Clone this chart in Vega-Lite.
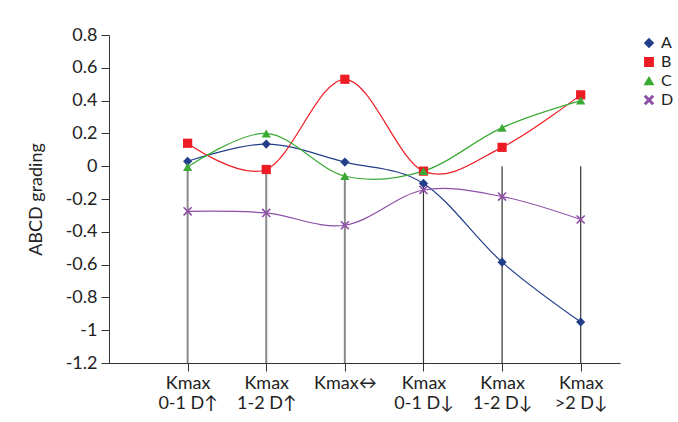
{
  "$schema": "https://vega.github.io/schema/vega-lite/v6.json",
  "autosize": "none",
  "width": 511,
  "height": 328,
  "padding": {"left": 109, "top": 35, "right": 58, "bottom": 59},
  "config": {
    "font": "Lato",
    "view": {"stroke": null},
    "axis": {"labelFont": "Lato", "titleFont": "Lato", "labelColor": "#222", "titleColor": "#222", "domainColor": "#333", "tickColor": "#333", "grid": false},
    "axisY": {"values": [-1.2, -1, -0.8, -0.6, -0.4, -0.2, 0, 0.2, 0.4, 0.6, 0.8], "labelOverlap": false, "labelFontSize": 18, "titleFontSize": 18, "titleFontWeight": "normal", "tickSize": 8, "labelPadding": 4, "titlePadding": 20}
  },
  "datasets": {
    "series": [
      {"k": 1, "series": "A", "value": 0.03},
      {"k": 2, "series": "A", "value": 0.135},
      {"k": 3, "series": "A", "value": 0.025},
      {"k": 4, "series": "A", "value": -0.105},
      {"k": 5, "series": "A", "value": -0.585},
      {"k": 6, "series": "A", "value": -0.95},
      {"k": 1, "series": "B", "value": 0.14},
      {"k": 2, "series": "B", "value": -0.02},
      {"k": 3, "series": "B", "value": 0.53},
      {"k": 4, "series": "B", "value": -0.03},
      {"k": 5, "series": "B", "value": 0.115},
      {"k": 6, "series": "B", "value": 0.435},
      {"k": 1, "series": "C", "value": -0.005},
      {"k": 2, "series": "C", "value": 0.2},
      {"k": 3, "series": "C", "value": -0.06},
      {"k": 4, "series": "C", "value": -0.03},
      {"k": 5, "series": "C", "value": 0.235},
      {"k": 6, "series": "C", "value": 0.4},
      {"k": 1, "series": "D", "value": -0.275},
      {"k": 2, "series": "D", "value": -0.285},
      {"k": 3, "series": "D", "value": -0.36},
      {"k": 4, "series": "D", "value": -0.145},
      {"k": 5, "series": "D", "value": -0.185},
      {"k": 6, "series": "D", "value": -0.325}
    ],
    "drops": [
      {"k": 1, "top": -0.005, "bottom": -1.2},
      {"k": 2, "top": -0.02, "bottom": -1.2},
      {"k": 3, "top": -0.06, "bottom": -1.2},
      {"k": 4, "top": -0.105, "bottom": -1.2},
      {"k": 5, "top": 0, "bottom": -1.2},
      {"k": 6, "top": 0, "bottom": -1.2}
    ]
  },
  "layer": [
    {
      "data": {"name": "drops"},
      "transform": [{"filter": "datum.k <= 3"}],
      "mark": {"type": "rule", "color": "#8a8a8a", "strokeWidth": 2},
      "encoding": {
        "x": {"field": "k", "type": "quantitative", "scale": {"domain": [0, 6.5], "nice": false, "zero": false},
          "axis": {"values": [1, 2, 3, 4, 5, 6], "title": null, "labelFontSize": 18, "tickSize": 8, "labelPadding": 3, "labelLineHeight": 20,
            "labelExpr": "datum.value == 1 ? ['Kmax', '0-1 D↑'] : datum.value == 2 ? ['Kmax', '1-2 D↑'] : datum.value == 3 ? ['Kmax↔', ''] : datum.value == 4 ? ['Kmax', '0-1 D↓'] : datum.value == 5 ? ['Kmax', '1-2 D↓'] : ['Kmax', '>2 D↓']"}},
        "y": {"field": "top", "type": "quantitative", "scale": {"domain": [-1.2, 0.8], "nice": false},
          "axis": {"values": [-1.2, -1, -0.8, -0.6, -0.4, -0.2, 0, 0.2, 0.4, 0.6, 0.8], "tickCount": 11, "title": "ABCD grading",
            "labelExpr": "replace(format(datum.value, '.1~f'), '\u2212', '-')"}},
        "y2": {"field": "bottom"}
      }
    },
    {
      "data": {"name": "drops"},
      "transform": [{"filter": "datum.k > 3"}],
      "mark": {"type": "rule", "color": "#333", "strokeWidth": 1.2},
      "encoding": {
        "x": {"field": "k", "type": "quantitative"},
        "y": {"field": "top", "type": "quantitative"},
        "y2": {"field": "bottom"}
      }
    },
    {
      "data": {"name": "series"},
      "mark": {"type": "line", "interpolate": "cardinal", "strokeWidth": 1.2},
      "encoding": {
        "x": {"field": "k", "type": "quantitative"},
        "y": {"field": "value", "type": "quantitative"},
        "color": {"field": "series", "type": "nominal", "scale": {"domain": ["A", "B", "C", "D"], "range": ["#233e8b", "#ed1c24", "#3aaa35", "#8e4fa8"]},
          "legend": {"title": null, "orient": "none", "legendX": 532, "legendY": 0, "labelFontSize": 16, "labelColor": "#222", "symbolSize": 70, "rowPadding": 3, "labelOffset": 4}}
      }
    },
    {
      "data": {"name": "series"},
      "mark": {"type": "point", "filled": true, "opacity": 1, "size": 85},
      "encoding": {
        "x": {"field": "k", "type": "quantitative"},
        "y": {"field": "value", "type": "quantitative"},
        "color": {"field": "series", "type": "nominal", "scale": {"domain": ["A", "B", "C", "D"], "range": ["#233e8b", "#ed1c24", "#3aaa35", "#8e4fa8"]},
          "legend": {"title": null, "orient": "none", "legendX": 532, "legendY": 0, "labelFontSize": 16, "labelColor": "#222", "symbolSize": 70, "rowPadding": 3, "labelOffset": 4}},
        "shape": {"field": "series", "type": "nominal", "scale": {"domain": ["A", "B", "C", "D"], "range": ["diamond", "square", "triangle-up", "M-1,-0.75L-0.75,-1L0,-0.25L0.75,-1L1,-0.75L0.25,0L1,0.75L0.75,1L0,0.25L-0.75,1L-1,0.75L-0.25,0Z"]}}
      }
    }
  ]
}
